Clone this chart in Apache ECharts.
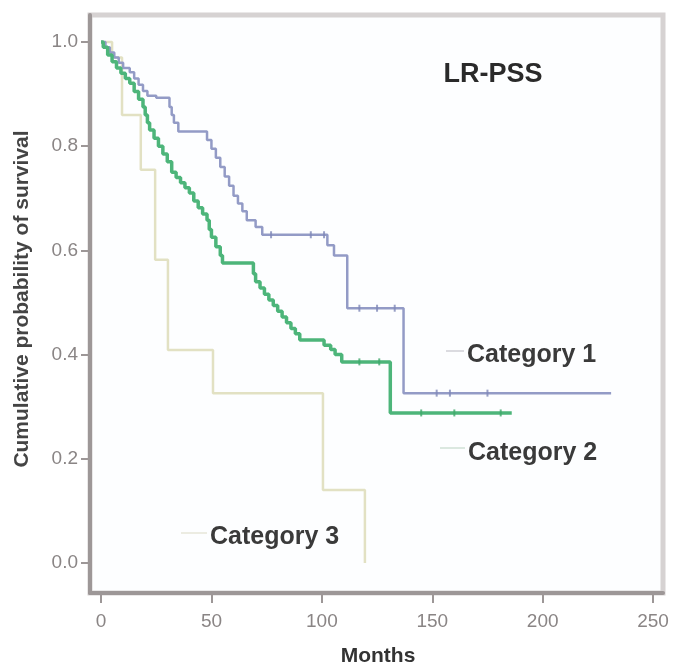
<!DOCTYPE html>
<html>
<head>
<meta charset="utf-8">
<script src="https://cdn.jsdelivr.net/npm/echarts@6/dist/echarts.min.js"></script>
<style>
html,body{margin:0;padding:0;background:#fff;}
#chart{width:673px;height:663px;}
</style>
</head>
<body>
<div id="chart"></div>
<script>
// ---- data ----
const xTicks = [0, 50, 100, 150, 200, 250];
const yTicks = [0, 0.2, 0.4, 0.6, 0.8, 1.0];

const cat1Times = [0,2,4,6,8,10,13,15,17,19,21,25,31,32,33,35,48,50,52,54,56,58,60,62,64,66,70,73,102.5,105.5,111.5,137,231];
const cat1Surv  = [1,0.99,0.98,0.97,0.96,0.95,0.942,0.93,0.918,0.906,0.897,0.893,0.875,0.86,0.845,0.828,0.812,0.795,0.778,0.76,0.742,0.724,0.705,0.69,0.675,0.658,0.645,0.63,0.61,0.59,0.489,0.326,0.326];
const cat1CensorTimes = [77, 95, 101, 117, 125, 133, 152, 158, 175];
const cat1CensorSurv  = [0.63, 0.63, 0.63, 0.489, 0.489, 0.489, 0.326, 0.326, 0.326];

const cat2Times = [0,1,3,5,7,9,11,13,15,17,19,20,21,22,24,26,28,30,32,34,36,38,40,42,44,46,48,49,50,52,54,55,69,70,72,74,76,78,80,82,84,86,88,90,101,104,106,109,131,186];
const cat2Surv  = [1,0.99,0.975,0.962,0.95,0.94,0.93,0.921,0.905,0.89,0.875,0.86,0.845,0.831,0.815,0.8,0.785,0.77,0.75,0.74,0.73,0.72,0.71,0.695,0.682,0.67,0.658,0.64,0.625,0.607,0.59,0.576,0.555,0.54,0.528,0.516,0.505,0.494,0.483,0.472,0.461,0.45,0.44,0.428,0.418,0.41,0.4,0.386,0.288,0.288];
const cat2CensorTimes = [117, 126, 145, 160, 181];
const cat2CensorSurv  = [0.386, 0.386, 0.288, 0.288, 0.288];

const cat3Times = [0,5,9.5,18,24.5,30.3,50.7,100.5,119.5];
const cat3Surv  = [1,0.97,0.86,0.755,0.582,0.409,0.326,0.14,0];

const seriesNames = ['Category 1', 'Category 2', 'Category 3'];
const chartTitle = 'LR-PSS';
const xTitle = 'Months';
const yTitle = 'Cumulative probability of survival';

function pairs(t, s) { return t.map((v, i) => [v, s[i]]); }

const chart = echarts.init(document.getElementById('chart'), null, {renderer: 'canvas'});

const font = '"Liberation Sans", Arial, sans-serif';
const c1 = '#939bc6', c2 = '#4db57a', c3 = '#e2e1c3';

const option = {
  animation: false,
  backgroundColor: '#ffffff',
  grid: {
    left: 90, top: 15, right: 10, bottom: 70,
    show: true, borderColor: '#d6d2d2', borderWidth: 5, backgroundColor: '#fdfeff'
  },
  xAxis: {
    type: 'value', min: -5, max: 254.5,
    axisLine: {show: true, onZero: false, lineStyle: {color: '#9d9797', width: 4}},
    axisTick: {show: true, customValues: xTicks, length: 10, lineStyle: {color: '#9d9797', width: 2}},
    axisLabel: {show: true, customValues: xTicks, fontSize: 19, color: '#8a8585', margin: 19, fontFamily: font},
    splitLine: {show: false}
  },
  yAxis: {
    type: 'value', min: -0.0576, max: 1.0518,
    axisLine: {show: true, onZero: false, lineStyle: {color: '#9d9797', width: 4}},
    axisTick: {show: true, customValues: yTicks, length: 9, lineStyle: {color: '#9d9797', width: 2}},
    axisLabel: {show: true, customValues: yTicks, fontSize: 19, color: '#8a8585', margin: 12, fontFamily: font,
      formatter: v => v.toFixed(1)},
    splitLine: {show: false}
  },
  series: [
    {name: seriesNames[2], type: 'line', step: 'end', showSymbol: false, data: pairs(cat3Times, cat3Surv),
      lineStyle: {color: c3, width: 2.5}, z: 2},
    {name: seriesNames[0], type: 'line', step: 'end', showSymbol: false, data: pairs(cat1Times, cat1Surv),
      lineStyle: {color: c1, width: 2.5}, z: 3},
    {name: seriesNames[1], type: 'line', step: 'end', showSymbol: false, data: pairs(cat2Times, cat2Surv),
      lineStyle: {color: c2, width: 3.5}, z: 4},
    {name: seriesNames[0] + ' censored', type: 'scatter', symbol: 'rect', symbolSize: [2, 7],
      data: pairs(cat1CensorTimes, cat1CensorSurv), itemStyle: {color: '#7f88b8'}, z: 5},
    {name: seriesNames[1] + ' censored', type: 'scatter', symbol: 'rect', symbolSize: [2, 7],
      data: pairs(cat2CensorTimes, cat2CensorSurv), itemStyle: {color: '#3ea86a'}, z: 5}
  ],
  graphic: [
    {type: 'text', x: 493, y: 75, z: 10, style: {text: chartTitle, font: 'bold 27px ' + font, fill: '#2a2a2a', textAlign: 'center', textVerticalAlign: 'middle'}},
    {type: 'line', z: 10, shape: {x1: 446, y1: 351, x2: 464, y2: 351}, style: {stroke: '#cfcfd6', lineWidth: 1.5}},
    {type: 'text', x: 467, y: 355, z: 10, style: {text: seriesNames[0], font: 'bold 25px ' + font, fill: '#3a3a3a', textAlign: 'left', textVerticalAlign: 'middle'}},
    {type: 'line', z: 10, shape: {x1: 440, y1: 448, x2: 465, y2: 448}, style: {stroke: '#cfe0d6', lineWidth: 1.5}},
    {type: 'text', x: 468, y: 453, z: 10, style: {text: seriesNames[1], font: 'bold 25px ' + font, fill: '#3a3a3a', textAlign: 'left', textVerticalAlign: 'middle'}},
    {type: 'line', z: 10, shape: {x1: 181, y1: 533, x2: 207, y2: 533}, style: {stroke: '#e6e6d8', lineWidth: 1.5}},
    {type: 'text', x: 210, y: 537, z: 10, style: {text: seriesNames[2], font: 'bold 25px ' + font, fill: '#3a3a3a', textAlign: 'left', textVerticalAlign: 'middle'}},
    {type: 'text', x: 378, y: 656, z: 10, style: {text: xTitle, font: 'bold 21px ' + font, fill: '#333', textAlign: 'center', textVerticalAlign: 'middle'}},
    {type: 'text', x: 22, y: 299, rotation: Math.PI / 2, z: 10, style: {text: yTitle, font: 'bold 21px ' + font, fill: '#444', textAlign: 'center', textVerticalAlign: 'middle'}}
  ]
};
chart.setOption(option);
</script>
</body>
</html>
